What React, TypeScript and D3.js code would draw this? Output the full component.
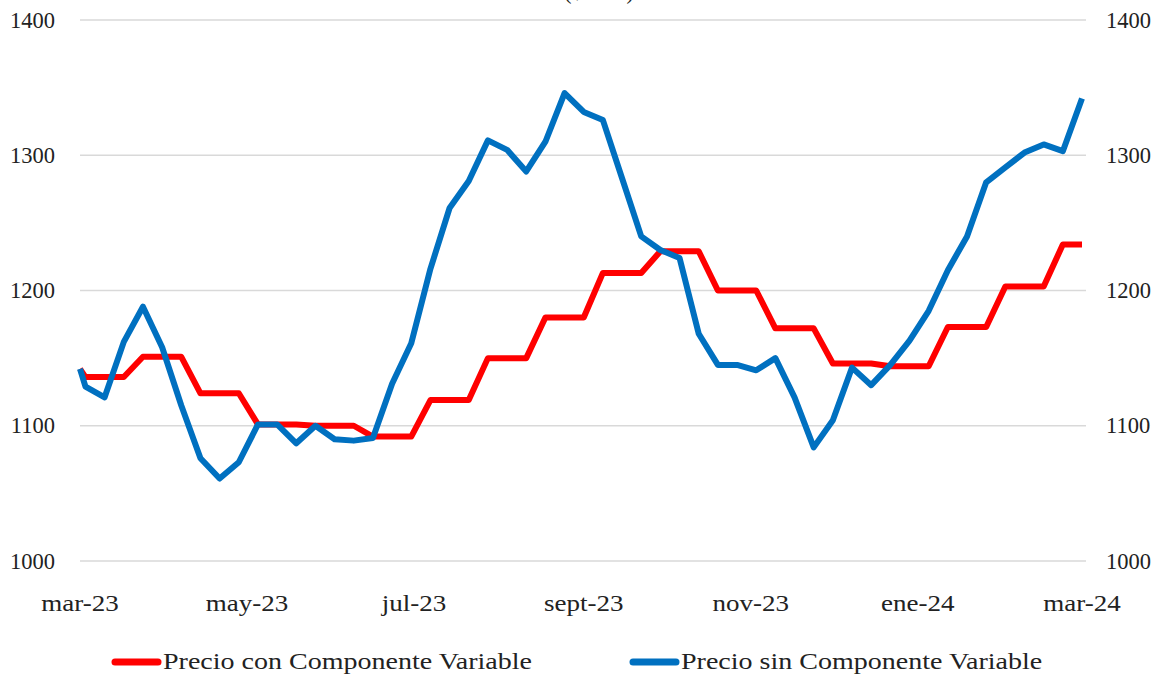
import React, { useEffect, useRef } from 'react';
import * as d3 from 'd3';

// weekly observations (first and last are the month-start points)
const fechas: string[] = [
  '2023-03-01',
  '2023-03-03', '2023-03-10', '2023-03-17', '2023-03-24', '2023-03-31',
  '2023-04-07', '2023-04-14', '2023-04-21', '2023-04-28',
  '2023-05-05', '2023-05-12', '2023-05-19', '2023-05-26',
  '2023-06-02', '2023-06-09', '2023-06-16', '2023-06-23', '2023-06-30',
  '2023-07-07', '2023-07-14', '2023-07-21', '2023-07-28',
  '2023-08-04', '2023-08-11', '2023-08-18', '2023-08-25',
  '2023-09-01', '2023-09-08', '2023-09-15', '2023-09-22', '2023-09-29',
  '2023-10-06', '2023-10-13', '2023-10-20', '2023-10-27',
  '2023-11-03', '2023-11-10', '2023-11-17', '2023-11-24',
  '2023-12-01', '2023-12-08', '2023-12-15', '2023-12-22', '2023-12-29',
  '2024-01-05', '2024-01-12', '2024-01-19', '2024-01-26',
  '2024-02-02', '2024-02-09', '2024-02-16', '2024-02-23',
  '2024-03-01',
];

const precioCon: number[] = [
  1142,
  1136, 1136, 1136, 1151, 1151,
  1151, 1124, 1124, 1124,
  1101, 1101, 1101, 1100,
  1100, 1100, 1092, 1092, 1092,
  1119, 1119, 1119, 1150,
  1150, 1150, 1180, 1180,
  1180, 1213, 1213, 1213, 1229,
  1229, 1229, 1200, 1200,
  1200, 1172, 1172, 1172,
  1146, 1146, 1146, 1144, 1144,
  1144, 1173, 1173, 1173,
  1203, 1203, 1203, 1234,
  1234,
];

const precioSin: number[] = [
  1142,
  1129, 1121, 1162, 1188, 1158,
  1115, 1076, 1061, 1073,
  1101, 1101, 1087, 1100,
  1090, 1089, 1091, 1131, 1161,
  1216, 1261, 1281, 1311,
  1304, 1288, 1310, 1346,
  1332, 1326, 1283, 1240, 1230,
  1224, 1168, 1145, 1145,
  1141, 1150, 1121, 1084,
  1104, 1143, 1130, 1145, 1163,
  1185, 1215, 1240, 1280,
  1291, 1302, 1308, 1303,
  1342,
];

const yTicks = [1000, 1100, 1200, 1300, 1400];
const xTickFechas = ['2023-03-01', '2023-05-01', '2023-07-01', '2023-09-01', '2023-11-01', '2024-01-01', '2024-03-01'];
const xTickLabels = ['mar-23', 'may-23', 'jul-23', 'sept-23', 'nov-23', 'ene-24', 'mar-24'];
const seriesNames = ['Precio con Componente Variable', 'Precio sin Componente Variable'];
const seriesColors = ['#ff0000', '#0070c0'];

function App() {
  const svgRef = useRef<SVGSVGElement | null>(null);

  useEffect(() => {
    if (!svgRef.current) return;
    const width = 1166;
    const height = 677;
    const left = 80;
    const right = 1082;
    const top = 20;
    const bottom = 561;
    const font = '"Liberation Serif", "Times New Roman", serif';
    const fs = 22.5;

    const svg = d3.select(svgRef.current);
    svg.selectAll('*').remove();
    svg.attr('width', width).attr('height', height);

    const parse = d3.timeParse('%Y-%m-%d');
    const dates = fechas.map((d) => parse(d) as Date);

    const x = d3.scaleTime()
      .domain([parse(xTickFechas[0]) as Date, parse(xTickFechas[xTickFechas.length - 1]) as Date])
      .range([left, right]);
    const y = d3.scaleLinear().domain([1000, 1400]).range([bottom, top]);

    // widen serif text a bit, the original face is broader
    const stretch = (sel: any, k: number) => {
      sel.each(function (this: SVGTextElement) {
        const len = this.getComputedTextLength();
        this.setAttribute('textLength', String(len * k));
        this.setAttribute('lengthAdjust', 'spacingAndGlyphs');
      });
    };

    // title remnant, cut at the top edge like the source image
    svg.append('text')
      .attr('x', 599)
      .attr('y', -1)
      .attr('text-anchor', 'middle')
      .attr('font-family', font)
      .attr('font-size', fs)
      .attr('fill', '#222')
      .text('($/litro)');

    // grid
    const grid = svg.append('g');
    yTicks.forEach((t) => {
      grid.append('line')
        .attr('x1', left)
        .attr('x2', right + 4)
        .attr('y1', y(t))
        .attr('y2', y(t))
        .attr('stroke', '#d9d9d9')
        .attr('stroke-width', 1.5);
    });

    // y labels both sides
    const yl = svg.append('g')
      .attr('font-family', font)
      .attr('font-size', fs)
      .attr('fill', '#222');
    yTicks.forEach((t) => {
      yl.append('text')
        .attr('x', 55)
        .attr('y', y(t) + 7.5)
        .attr('text-anchor', 'end')
        .text(String(t));
      yl.append('text')
        .attr('x', 1106)
        .attr('y', y(t) + 7.5)
        .attr('text-anchor', 'start')
        .text(String(t));
    });

    // x labels
    const xl = svg.append('g')
      .attr('font-family', font)
      .attr('font-size', fs)
      .attr('fill', '#222');
    xTickFechas.forEach((d, i) => {
      const t = xl.append('text')
        .attr('x', x(parse(d) as Date))
        .attr('y', 611)
        .attr('text-anchor', 'middle')
        .text(xTickLabels[i]);
      stretch(t, 1.2);
    });

    // series lines
    const line = d3.line<number>()
      .x((_, i) => x(dates[i]))
      .y((v) => y(v))
      .curve(d3.curveLinear);

    [precioCon, precioSin].forEach((vals, i) => {
      svg.append('path')
        .datum(vals)
        .attr('d', line)
        .attr('fill', 'none')
        .attr('stroke', seriesColors[i])
        .attr('stroke-width', 6)
        .attr('stroke-linejoin', 'round');
    });

    // legend
    const legendX = [112, 630];
    const lg = svg.append('g');
    seriesNames.forEach((name, i) => {
      lg.append('line')
        .attr('x1', legendX[i] + 3)
        .attr('x2', legendX[i] + 46)
        .attr('y1', 662)
        .attr('y2', 662)
        .attr('stroke', seriesColors[i])
        .attr('stroke-width', 7)
        .attr('stroke-linecap', 'round');
      const t = lg.append('text')
        .attr('x', legendX[i] + 51)
        .attr('y', 669)
        .attr('font-family', font)
        .attr('font-size', fs)
        .attr('fill', '#222')
        .text(name);
      stretch(t, 1.245);
    });
  }, []);

  return (
    <div style={{ position: 'absolute', left: 0, top: 0, background: '#fff' }}>
      <svg ref={svgRef} style={{ display: 'block' }}></svg>
    </div>
  );
}

export default App;
